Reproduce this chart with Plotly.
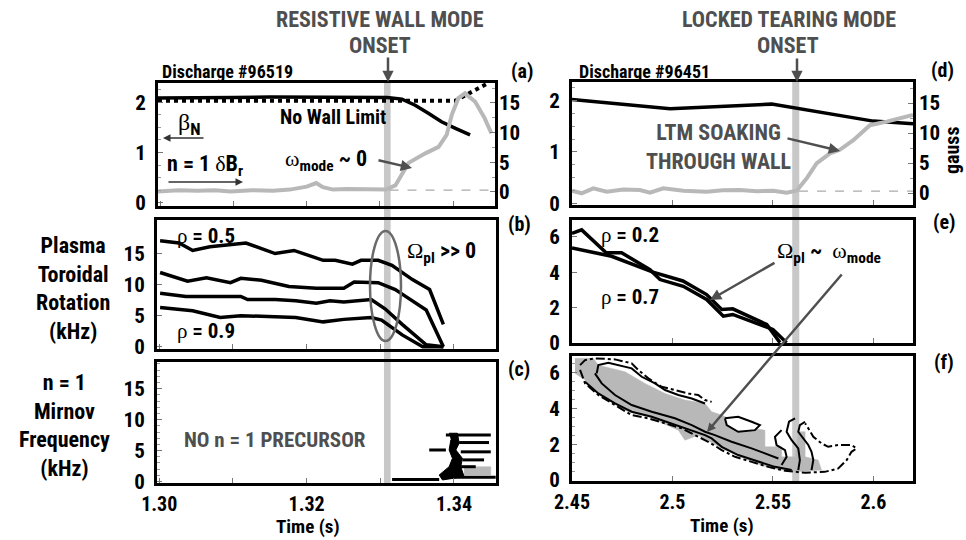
import plotly.graph_objects as go

W, H = 966, 540
FONT = "Roboto Condensed, Open Sans Condensed, Liberation Sans, Arial, sans-serif"
DARK = "#4f4f4f"
LGRAY = "#b8b8b8"
BAND = "#c8c8c8"

# ---------------- data ----------------
# (a) discharge 96519
a_beta_t = [1.2997, 1.3050, 1.3100, 1.3150, 1.3200, 1.3250, 1.3310, 1.3330, 1.3348, 1.3366, 1.3384, 1.3403, 1.3423]
a_beta_v = [2.08, 2.08, 2.09, 2.10, 2.10, 2.09, 2.09, 2.06, 1.94, 1.78, 1.61, 1.48, 1.35]
a_nwl_t = [1.2997, 1.3403, 1.3448]
a_nwl_v = [2.03, 2.03, 2.38]
a_dbr_t = [1.2997, 1.3025, 1.3051, 1.3075, 1.3096, 1.3125, 1.3154, 1.3177, 1.3200, 1.3213, 1.3222, 1.3236,
           1.3255, 1.3276, 1.3295, 1.3308, 1.3321, 1.3339, 1.3362, 1.3380, 1.3391, 1.3398, 1.3407, 1.3416,
           1.3430, 1.3443, 1.3452]
a_dbr_g = [0.1, 0.3, 0.2, 0.3, 0.1, 0.3, 0.2, 0.4, 0.9, 1.5, 0.8, 0.4, 0.5, 0.4, 0.4, 0.4, 1.1, 4.9, 6.5,
           7.6, 9.6, 13.0, 15.8, 16.6, 15.2, 12.4, 9.9]
a_zero_t = [1.3313, 1.3457]
a_zero_g = [0.3, 0.3]

# (b) rotation
b_t05 = [1.30012, 1.30269, 1.30454, 1.30688, 1.31177, 1.31387, 1.31573, 1.31829, 1.32225, 1.32388, 1.32622,
         1.32738, 1.32971, 1.33158, 1.33436, 1.33669, 1.33856]
b_v05 = [17.05, 16.7, 15.5, 16.1, 16.7, 15.8, 15.0, 15.5, 13.9, 13.9, 13.3, 13.9, 13.9, 13.1, 10.8, 9.2, 3.6]
b_t2 = [1.30012, 1.30385, 1.30641, 1.30967, 1.31107, 1.31387, 1.31760, 1.32132, 1.32505, 1.32645, 1.32971,
        1.33204, 1.33343, 1.33623, 1.33856]
b_v2 = [11.95, 10.55, 11.1, 10.3, 11.0, 10.7, 9.7, 9.4, 9.4, 10.4, 10.3, 9.2, 8.1, 5.9, 0.0]
b_t3 = [1.30012, 1.30362, 1.31107, 1.31200, 1.31573, 1.31852, 1.32132, 1.32318, 1.32505, 1.32877, 1.33064,
        1.33297, 1.33623, 1.33856]
b_v3 = [8.6, 8.1, 8.1, 7.6, 7.6, 7.4, 7.0, 7.4, 7.2, 7.6, 6.1, 3.6, 0.3, 0.0]
b_t09 = [1.30012, 1.30454, 1.30828, 1.31107, 1.31852, 1.32225, 1.32505, 1.32877, 1.33017, 1.33297, 1.33576, 1.33856]
b_v09 = [6.3, 5.8, 4.7, 5.0, 4.7, 4.0, 4.4, 4.7, 4.3, 1.9, 0.0, 0.0]

# (c) Mirnov spectrogram features
c_dash_t0 = [1.33890, 1.34070, 1.34092, 1.34114, 1.34025, 1.33844, 1.33160, 1.33664]
c_dash_t1 = [1.34499, 1.34475, 1.34499, 1.34408, 1.34295, 1.34566, 1.33799, 1.33890]
c_dash_f = [7.5, 6.3, 4.8, 3.5, 2.4, 0.7, 0.35, 5.1]
c_blob_t = [1.33934, 1.34047, 1.34070, 1.34025, 1.34114, 1.34092, 1.34137, 1.33844, 1.33799, 1.33934,
            1.33979, 1.33934, 1.33957]
c_blob_f = [7.8, 7.8, 6.2, 5.1, 3.75, 2.4, 0.8, 0.26, 1.06, 2.4, 3.75, 5.1, 6.7]
c_gray_t = [1.34137, 1.34499, 1.34499, 1.34137]
c_gray_f = [1.06, 1.06, 2.4, 2.4]

# (d) discharge 96451
d_beta_t = [2.4500, 2.4988, 2.5494, 2.5601, 2.5999, 2.6197]
d_beta_v = [2.02, 1.84, 1.93, 1.86, 1.60, 1.55]
d_dbr_t = [2.4500, 2.4548, 2.4606, 2.4673, 2.4755, 2.4838, 2.4888, 2.4954, 2.5054, 2.5170, 2.5250, 2.5336,
           2.5420, 2.5501, 2.5568, 2.5618, 2.5668, 2.5717, 2.5784, 2.5833, 2.5900, 2.5983, 2.6066, 2.6197]
d_dbr_g = [0.39, -0.05, 0.78, 0.22, 0.6, 0.5, 0.05, 0.78, 0.39, 0.22, 0.45, 0.5, 0.3, 0.39, 0.05, 0.39,
           2.45, 4.95, 6.6, 7.2, 8.8, 11.3, 11.9, 13.0]
d_zero_t = [2.5630, 2.6197]
d_zero_g = [0.3, 0.3]

# (e) rotation
e_t02 = [2.4500, 2.4548, 2.4670, 2.4747, 2.4888, 2.4938, 2.5054, 2.5170, 2.5253, 2.5300, 2.5500, 2.5568]
e_v02 = [6.2, 6.4, 5.1, 5.1, 4.14, 3.58, 3.2, 2.45, 1.5, 1.6, 0.75, 0.0]
e_t07 = [2.4500, 2.4697, 2.4903, 2.5052, 2.5170, 2.5245, 2.5300, 2.5469, 2.5535]
e_v07 = [5.37, 4.9, 4.0, 3.5, 2.73, 1.88, 1.92, 1.03, 0.0]

# (f) Mirnov spectrogram contours
f_fill_t = [2.4515, 2.4606, 2.4631, 2.4764, 2.4863, 2.4963, 2.5062, 2.5162, 2.5195, 2.5245, 2.5294, 2.5394,
            2.5460, 2.5460, 2.5543, 2.5543, 2.5610, 2.5626, 2.5660, 2.5660, 2.5725, 2.5742, 2.5610, 2.5494,
            2.5394, 2.5261, 2.5128, 2.5062, 2.5029, 2.4880, 2.4780, 2.4648, 2.4565, 2.4515]
f_fill_v = [6.80, 6.80, 6.42, 6.05, 5.40, 4.84, 4.47, 4.28, 3.82, 3.63, 3.35, 2.89, 2.79, 1.86, 1.86, 1.30,
            1.30, 2.70, 2.70, 1.30, 1.12, 0.56, 0.46, 0.65, 1.02, 1.68, 2.51, 2.23, 2.79, 3.54, 3.82, 4.65,
            5.59, 5.96]
f_hole_t = [2.5261, 2.5327, 2.5394, 2.5435, 2.5410, 2.5327, 2.5270, 2.5261]
f_hole_v = [3.45, 3.54, 3.26, 3.07, 2.79, 2.70, 3.07, 3.45]
f_c1_t = [2.4540, 2.4565, 2.4614, 2.4714, 2.4797, 2.4830, 2.4880, 2.4946, 2.5012, 2.5079, 2.5128, 2.5162, 2.5195]
f_c1_v = [6.42, 6.70, 6.80, 6.74, 6.52, 6.15, 5.68, 5.21, 5.03, 4.84, 4.75, 4.47, 4.37]
f_c2_t = [2.4623, 2.4631, 2.4681, 2.4797, 2.4847, 2.4913, 2.4963, 2.5029, 2.5096, 2.5162]
f_c2_v = [5.96, 6.42, 6.55, 6.24, 5.77, 5.40, 5.03, 4.75, 4.56, 4.28]
f_c3_t = [2.4614, 2.4648, 2.4714, 2.4797, 2.4897, 2.5012, 2.5096, 2.5162, 2.5211, 2.5294, 2.5394, 2.5460, 2.5527]
f_c3_v = [5.96, 5.40, 4.75, 4.19, 3.82, 3.45, 3.07, 2.70, 2.51, 2.14, 1.77, 1.49, 1.21]
f_c4_t = [2.4565, 2.4631, 2.4714, 2.4797, 2.4897, 2.4996, 2.5096, 2.5162, 2.5195, 2.5245, 2.5327, 2.5427,
          2.5510, 2.5593]
f_c4_v = [5.49, 4.84, 4.28, 3.82, 3.54, 3.17, 2.79, 2.51, 2.33, 1.86, 1.40, 1.02, 0.74, 0.56]
f_c5_t = [2.4540, 2.4565, 2.4631, 2.4714, 2.4797, 2.4880, 2.4963, 2.5046, 2.5112, 2.5178, 2.5245, 2.5311,
          2.5394, 2.5477, 2.5560, 2.5660, 2.5758, 2.5825, 2.5867, 2.5891, 2.5916, 2.5891, 2.5825, 2.5775,
          2.5742, 2.5701, 2.5676, 2.5660]
f_c5_v = [6.15, 5.40, 4.75, 4.19, 3.63, 3.45, 3.17, 2.89, 2.51, 2.14, 1.68, 1.30, 1.02, 0.74, 0.52, 0.41,
          0.46, 0.65, 1.12, 1.58, 1.77, 1.96, 1.96, 1.86, 2.05, 2.42, 2.89, 3.17]
f_c6_t = [2.5660, 2.5634, 2.5626, 2.5651, 2.5676, 2.5692, 2.5701, 2.5692]
f_c6_v = [3.26, 3.07, 2.70, 2.33, 1.96, 1.58, 1.12, 0.56]
f_c7_t = [2.5610, 2.5580, 2.5568, 2.5593, 2.5626, 2.5634, 2.5626]
f_c7_v = [3.45, 3.26, 2.70, 2.23, 1.77, 1.12, 0.56]
f_c8_t = [2.5543, 2.5510, 2.5518, 2.5560, 2.5568, 2.5543]
f_c8_v = [2.79, 2.42, 1.96, 1.68, 1.30, 0.84]

# onset times
rwm_onset = [1.3305, 1.3314]
ltm_onset = [2.5596, 2.5631]

# ---------------- helpers ----------------
def xd(x0, x1):
    return [x0 / W, x1 / W]


def yd(y0, y1):
    return [1 - y1 / H, 1 - y0 / H]


def tf(size=21, color="black"):
    return dict(family=FONT, size=size, color=color, weight="bold")


def axis(domain, rng, anchor, tickvals=None, ticktext=None, labels=True, minor=None, side=None, overlay=None,
         standoff=5, fsize=21):
    d = dict(domain=domain, range=rng, anchor=anchor, showline=True, linewidth=3, linecolor="black",
             mirror=True, ticks="inside", ticklen=5, tickwidth=1, tickcolor="#777", showgrid=False,
             zeroline=False, showticklabels=labels, tickfont=tf(fsize), fixedrange=True,
             ticklabelstandoff=standoff, automargin=False)
    if tickvals is not None:
        d["tickvals"] = tickvals
        d["ticktext"] = ticktext if ticktext is not None else [str(v) for v in tickvals]
    if minor is not None:
        d["minor"] = dict(ticks="inside", dtick=minor, ticklen=3, tickcolor="#999", tickwidth=1)
    if side:
        d["side"] = side
    if overlay:
        d["overlaying"] = overlay
        d["showline"] = False
        d.pop("domain")
    return d


fig = go.Figure()


def line(x, y, xa, ya, color="black", width=3.5, dash="solid", fill=None, fillcolor=None):
    fig.add_trace(go.Scatter(x=x, y=y, xaxis=xa, yaxis=ya, mode="lines", showlegend=False, hoverinfo="skip",
                             line=dict(color=color, width=width, dash=dash), fill=fill, fillcolor=fillcolor))


# panel a
line(a_dbr_t, a_dbr_g, "x", "y2", LGRAY, 4)
line(a_zero_t, a_zero_g, "x", "y2", "#aaaaaa", 1.2, "dash")
line(a_nwl_t, a_nwl_v, "x", "y", "black", 4, "dot")
line(a_beta_t, a_beta_v, "x", "y", "black", 3.5)
# panel b
for t, v in [(b_t05, b_v05), (b_t2, b_v2), (b_t3, b_v3), (b_t09, b_v09)]:
    line(t, v, "x3", "y3", "black", 3.5)
# panel c
seg_t, seg_f = [], []
for t0, t1, f in zip(c_dash_t0, c_dash_t1, c_dash_f):
    seg_t += [t0, t1, None]
    seg_f += [f, f, None]
line(c_gray_t, c_gray_f, "x4", "y4", LGRAY, 0.5, fill="toself", fillcolor=LGRAY)
line(c_blob_t, c_blob_f, "x4", "y4", "black", 1, fill="toself", fillcolor="black")
line(seg_t, seg_f, "x4", "y4", "black", 3)
# panel d
line(d_dbr_t, d_dbr_g, "x5", "y6", LGRAY, 4)
line(d_zero_t, d_zero_g, "x5", "y6", "#aaaaaa", 1.2, "dash")
line(d_beta_t, d_beta_v, "x5", "y5", "black", 3.5)
# panel e
line(e_t02, e_v02, "x7", "y7", "black", 3.5)
line(e_t07, e_v07, "x7", "y7", "black", 3.5)
# panel f
line(f_fill_t, f_fill_v, "x8", "y8", LGRAY, 0.5, fill="toself", fillcolor=LGRAY)
line(f_hole_t, f_hole_v, "x8", "y8", "black", 2, fill="toself", fillcolor="white")
for t, v, ds in [(f_c1_t, f_c1_v, "dashdot"), (f_c2_t, f_c2_v, "solid"), (f_c3_t, f_c3_v, "solid"),
                 (f_c4_t, f_c4_v, "solid"), (f_c5_t, f_c5_v, "dashdot"), (f_c6_t, f_c6_v, "solid"),
                 (f_c7_t, f_c7_v, "solid"), (f_c8_t, f_c8_v, "solid")]:
    line(t, v, "x8", "y8", "black", 2, ds)

LX = [1.2997, 1.3457]
RX = [2.45, 2.6197]
lx_ticks = [1.30, 1.31, 1.32, 1.33, 1.34]
rx_ticks = [2.45, 2.5, 2.55, 2.6]

layout = dict(
    width=W, height=H, autosize=False, margin=dict(l=0, r=0, t=0, b=0, pad=0, autoexpand=False),
    paper_bgcolor="white", plot_bgcolor="rgba(0,0,0,0)", showlegend=False,
    xaxis=axis(xd(158, 495), LX, "y", lx_ticks, labels=False),
    yaxis=axis(yd(83, 206), [-0.06, 2.38], "x", [0, 1, 2], minor=0.25),
    yaxis2=axis(None, [-2.36, 18.35], "x", [0, 5, 10, 15], minor=2.5, side="right", overlay="y", standoff=3),
    xaxis3=axis(xd(157, 496), LX, "y3", lx_ticks, labels=False),
    yaxis3=axis(yd(220, 349), [-0.37, 20.4], "x3", [0, 5, 10, 15]),
    xaxis4=axis(xd(157, 496), LX, "y4", lx_ticks, ["1.30", "", "1.32", "", "1.34"], standoff=1, fsize=20),
    yaxis4=axis(yd(362, 483), [-0.23, 19.3], "x4", [0, 5, 10, 15], minor=1),
    xaxis5=axis(xd(572, 913), RX, "y5", rx_ticks, labels=False),
    yaxis5=axis(yd(82, 205), [-0.03, 2.36], "x5", [0, 1, 2], minor=0.25),
    yaxis6=axis(None, [-2.0, 18.5], "x5", [0, 5, 10, 15], minor=2.5, side="right", overlay="y5", standoff=5),
    xaxis7=axis(xd(572, 913), RX, "y7", rx_ticks, labels=False),
    yaxis7=axis(yd(220, 343), [-0.02, 6.96], "x7", [0, 2, 4, 6]),
    xaxis8=axis(xd(572, 913), RX, "y8", rx_ticks, ["2.45", "2.5", "2.55", "2.6"], standoff=1, fsize=20),
    yaxis8=axis(yd(356, 481), [-0.05, 6.93], "x8", [0, 2, 4, 6], minor=0.5),
)
fig.update_layout(**layout)

# onset bands
fig.add_shape(type="rect", xref="x4", yref="paper", x0=rwm_onset[0], x1=rwm_onset[1], y0=1 - 483 / H,
              y1=1 - 82 / H, fillcolor=BAND, line=dict(width=0), layer="below")
fig.add_shape(type="rect", xref="x8", yref="paper", x0=ltm_onset[0], x1=ltm_onset[1], y0=1 - 481 / H,
              y1=1 - 82 / H, fillcolor=BAND, line=dict(width=0), layer="below")
# ellipse in (b)
fig.add_shape(type="circle", xref="paper", yref="paper", x0=370 / W, x1=401 / W, y0=1 - 341 / H,
              y1=1 - 231 / H, line=dict(color="#6a6a6a", width=2.5))

ann = []


def txt(x, y, s, size=21, color="black", xanchor="center", angle=0, yanchor="middle"):
    ann.append(dict(x=x / W, y=1 - y / H, xref="paper", yref="paper", text=s, showarrow=False,
                    font=tf(size, color), xanchor=xanchor, yanchor=yanchor, textangle=angle))


def arr(x0, y0, x1, y1, color=DARK, width=2.5, head=2, size=1.0):
    ann.append(dict(x=x1 / W, y=1 - y1 / H, xref="paper", yref="paper", ax=x0 - x1, ay=y0 - y1,
                    axref="pixel", ayref="pixel", showarrow=True, arrowhead=head, arrowwidth=width,
                    arrowcolor=color, arrowsize=size, text=""))


def g(ch):
    return "<span style='font-family:Liberation Serif;font-weight:normal'>%s</span>" % ch


txt(380, 19, "RESISTIVE WALL MODE", 22, DARK)
txt(380, 45, "ONSET", 22, DARK)
arr(388, 56, 388, 82, DARK, 2.5, 2, 0.9)
txt(789, 20, "LOCKED TEARING MODE", 22, DARK)
txt(788, 46, "ONSET", 22, DARK)
arr(797, 57, 797, 82, DARK, 2.5, 2, 0.9)

txt(160, 71, "Discharge #96519", 18, xanchor="left")
txt(577, 71, "Discharge #96451", 18, xanchor="left")
for x, y, s in [(522, 71, "(a)"), (519, 224, "(b)"), (519, 369, "(c)"), (942, 70, "(d)"), (944, 222, "(e)"),
                (944, 362, "(f)")]:
    txt(x, y, s, 20)
txt(952, 150, "gauss", 20, angle=-90)

txt(73, 288, "Plasma<br>Toroidal<br>Rotation<br>(kHz)", 22)
txt(64, 425, "n = 1<br>Mirnov<br>Frequency<br>(kHz)", 22)

txt(176, 124, g("β") + "<sub>N</sub>", 24, xanchor="left")
arr(205, 138, 163, 138, "#333", 1.5, 2, 1.0)
txt(165, 166, "n = 1 " + g("δ") + "B<sub>r</sub>", 22, xanchor="left")
arr(167, 182, 243, 182, "#333", 1.5, 2, 1.0)
txt(333, 117, "No Wall Limit", 20)
txt(283, 160, g("ω") + "<sub>mode</sub> ~ 0", 22, xanchor="left")
arr(377, 160, 412, 168, DARK, 2.5, 2, 0.9)

txt(206, 236, g("ρ") + " = 0.5", 21)
txt(206, 331, g("ρ") + " = 0.9", 21)
txt(405, 252, g("Ω") + "<sub>pl</sub> >> 0", 22, xanchor="left")

txt(275, 440, "NO n = 1 PRECURSOR", 21, DARK)

txt(718, 147, "LTM SOAKING<br>THROUGH WALL", 22, DARK)
arr(786, 138, 840, 151, DARK, 2.5, 2, 0.9)

txt(630, 235, g("ρ") + " = 0.2", 21)
txt(630, 297, g("ρ") + " = 0.7", 21)
txt(775, 252, g("Ω") + "<sub>pl</sub> ~  " + g("ω") + "<sub>mode</sub>", 22, xanchor="left")
arr(776, 262, 710, 300, DARK, 2.5, 2, 0.9)
arr(843, 273, 707, 432, DARK, 2.5, 2, 0.7)

txt(308, 540, "Time (s)", 19, yanchor="bottom")
txt(722, 539, "Time (s)", 19, yanchor="bottom")

fig.update_layout(annotations=ann)
fig.write_html("out.html")
